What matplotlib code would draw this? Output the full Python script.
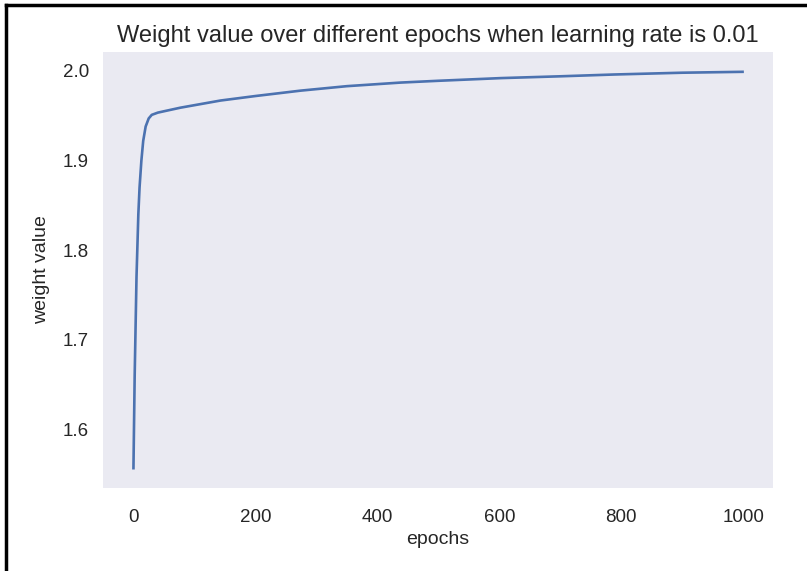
import matplotlib
matplotlib.use("Agg")
import matplotlib.pyplot as plt
from matplotlib.lines import Line2D
from matplotlib import font_manager

epochs = [0, 2, 5, 8, 10, 13, 16, 20, 25, 30, 40, 50, 77, 110, 143, 200, 274, 350, 438, 500, 603, 700, 788, 900, 999]
weights = [1.557, 1.66, 1.77, 1.84, 1.87, 1.90, 1.922, 1.938, 1.947, 1.951, 1.9535, 1.955, 1.959, 1.963, 1.967,
           1.972, 1.978, 1.983, 1.987, 1.989, 1.992, 1.994, 1.996, 1.998, 1.999]
title = "Weight value over different epochs when learning rate is 0.01"
xlabel = "epochs"
ylabel = "weight value"

names = {f.name for f in font_manager.fontManager.ttflist}
fam = "Liberation Sans Narrow" if "Liberation Sans Narrow" in names else "Liberation Sans"
plt.rcParams['font.family'] = [fam, 'DejaVu Sans']

text_c = "#262626"
fig = plt.figure(figsize=(8.07, 5.71), dpi=100)
ax = fig.add_axes([103/807, 1-488/571, 670/807, 436/571])
ax.set_facecolor("#EAEAF2")
for s in ax.spines.values():
    s.set_visible(False)
ax.plot(epochs, weights, color="#4C72B0", lw=1.9)
ax.set_yticks([1.6, 1.7, 1.8, 1.9, 2.0])
ax.set_xticks([0, 200, 400, 600, 800, 1000])
ax.tick_params(length=0, labelsize=13.5, colors=text_c)
ax.tick_params(axis='x', pad=15)
ax.tick_params(axis='y', pad=10)
ax.set_title(title, fontsize=17, color=text_c, pad=7)
ax.set_xlabel(xlabel, fontsize=14, color=text_c, labelpad=4)
ax.set_ylabel(ylabel, fontsize=14, color=text_c, labelpad=9)

fig.add_artist(Line2D([6/807, 6/807], [0, 1-5/571], transform=fig.transFigure, color="black", lw=2.5))
fig.add_artist(Line2D([6/807, 1], [1-5/571, 1-5/571], transform=fig.transFigure, color="black", lw=2.5))

fig.savefig("out.png", dpi=100)
